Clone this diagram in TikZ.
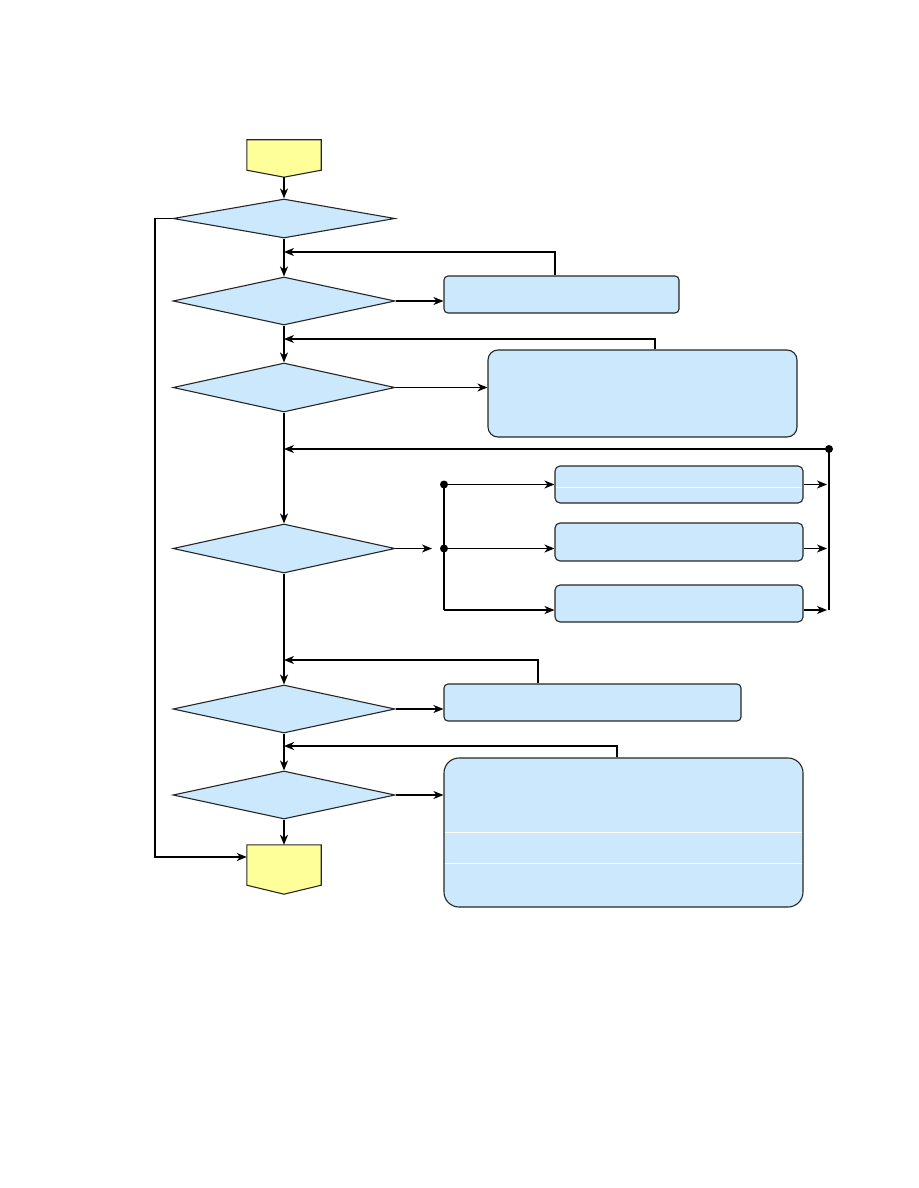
\documentclass[tikz,border=0pt]{standalone}
\usepackage{xcolor}
\usepackage{tikz}
\usetikzlibrary{arrows.meta,shapes.geometric,positioning,calc}
\definecolor{boxblue}{RGB}{204,232,252}
\definecolor{termyellow}{RGB}{255,255,153}
\tikzset{
  decision/.style={diamond,draw=black!85,fill=boxblue,line width=1.1pt,inner sep=0pt},
  action/.style={rectangle,draw=black!85,fill=boxblue,line width=1.1pt,inner sep=0pt},
  term/.style={rectangle,inner sep=0pt,minimum width=74pt},
  flow/.style={line width=1.1pt,-{Stealth[length=10pt,width=8pt,inset=3pt]}},
  mainflow/.style={flow,line width=2pt},
  wire/.style={line width=1.1pt}
}

\begin{document}
\begin{tikzpicture}[x=1pt,y=-1pt]
  \useasboundingbox (0,0) rectangle (918,1188);

  % Terminals
  \node[term,minimum height=30pt] (start) at (284,155) {};
  \coordinate (starttip) at ($(start.south)+(0,7)$);
  \draw[fill=termyellow,draw=black!85,line width=1.1pt] (start.north west) -- (start.north east)
    -- (start.south east) -- (starttip) -- (start.south west) -- cycle;
  \node[term,minimum height=40pt] (stop) at (284,865) {};
  \draw[fill=termyellow,draw=black!85,line width=1.1pt] (stop.north west) -- (stop.north east)
    -- (stop.south east) -- ($(stop.south)+(0,9)$) -- (stop.south west) -- cycle;

  % Decisions
  \node[decision,minimum width=222pt,minimum height=39pt] (d1) at (284,218.5) {};
  \node[decision,minimum width=222pt,minimum height=48pt] (d2) at (284,301) {};
  \node[decision,minimum width=222pt,minimum height=49pt] (d3) at (284,387.5) {};
  \node[decision,minimum width=222pt,minimum height=49pt] (d4) at (284,548.5) {};
  \node[decision,minimum width=222pt,minimum height=48pt] (d5) at (284,709) {};
  \node[decision,minimum width=222pt,minimum height=48pt] (d6) at (284,795) {};

  % Boxes
  \node[action,rounded corners=4pt,minimum width=235pt,minimum height=37pt] (box1) at (561.5,294.5) {};
  \node[action,rounded corners=10pt,minimum width=309pt,minimum height=87pt] (box2) at (642.5,393.5) {};
  \node[action,rounded corners=5pt,minimum width=248pt,minimum height=37pt] (box3) at (679,484.5) {};
  \node[action,rounded corners=5pt,minimum width=248pt,minimum height=38pt] (box4) at (679,542) {};
  \node[action,rounded corners=5pt,minimum width=248pt,minimum height=37pt] (box5) at (679,603.5) {};
  \node[action,rounded corners=4pt,minimum width=297pt,minimum height=37pt] (box6) at (592.5,702.5) {};
  \node[action,rounded corners=15pt,minimum width=359pt,minimum height=149pt] (box7) at (623.5,832.5) {};
  \draw[white,line width=0.8pt] (556,487) -- (802,487);
  \draw[white,line width=0.8pt] (445,832) -- (802,832);
  \draw[white,line width=0.8pt] (445,863) -- (802,863);

  % Main line
  \draw[mainflow] (starttip) -- (d1.north);
  \draw[mainflow] (d1.south) -- (d2.north);
  \draw[mainflow] (d2.south) -- (d3.north);
  \draw[mainflow] (d3.south) -- (d4.north);
  \draw[mainflow] (d4.south) -- (d5.north);
  \draw[mainflow] (d5.south) -- (d6.north);
  \draw[mainflow] (d6.south) -- (stop.north);

  % Bypass
  \draw[flow] (d1.west) -- (155,218.5) -- (155,857) -- (stop.west |- 0,857);

  % Side boxes
  \draw[flow] (d2.east) -- (d2.east -| box1.west);
  \draw[flow] (d3.east) -- (d3.east -| box2.west);
  \draw[flow,line width=2pt] (d5.east) -- (d5.east -| box6.west);
  \draw[flow] (d6.east) -- (d6.east -| box7.west);

  % Returns
  \coordinate (ret1) at (555,252);
  \draw[flow] (box1.north -| ret1) -- (ret1) -- (d1.south |- ret1);
  \coordinate (ret2) at (655,339);
  \draw[flow] (box2.north -| ret2) -- (ret2) -- (d2.south |- ret2);
  \coordinate (ret4) at (538,660);
  \draw[flow] (box6.north -| ret4) -- (ret4) -- (d4.south |- ret4);
  \coordinate (ret5) at (617,746);
  \draw[flow,line width=2pt] (box7.north -| ret5) -- (ret5) -- (d5.south |- ret5);

  % Branches
  \coordinate (split) at (444,548.5);
  \coordinate (splittop) at (444,484.5);
  \coordinate (splitbot) at (444,610);
  \draw[flow] (d4.east) -- ($(split)+(-12,0)$);
  \draw[wire] (splittop) -- (splitbot);
  \fill (split) circle (4pt);
  \fill (splittop) circle (4pt);
  \draw[flow] (splittop) -- (splittop -| box3.west);
  \draw[flow] (split) -- (split -| box4.west);
  \draw[flow] (splitbot) -- (splitbot -| box5.west);

  % Join
  \coordinate (join) at (829,449);
  \draw[flow] (splittop -| box3.east) -- (827,484.5);
  \draw[flow] (split -| box4.east) -- (827,548.5);
  \draw[flow] (splitbot -| box5.east) -- (827,610);
  \draw[wire] (join) -- (829,610);
  \fill (join) circle (4pt);
  \draw[flow] (join) -- (d3.south |- join);
\end{tikzpicture}
\end{document}
